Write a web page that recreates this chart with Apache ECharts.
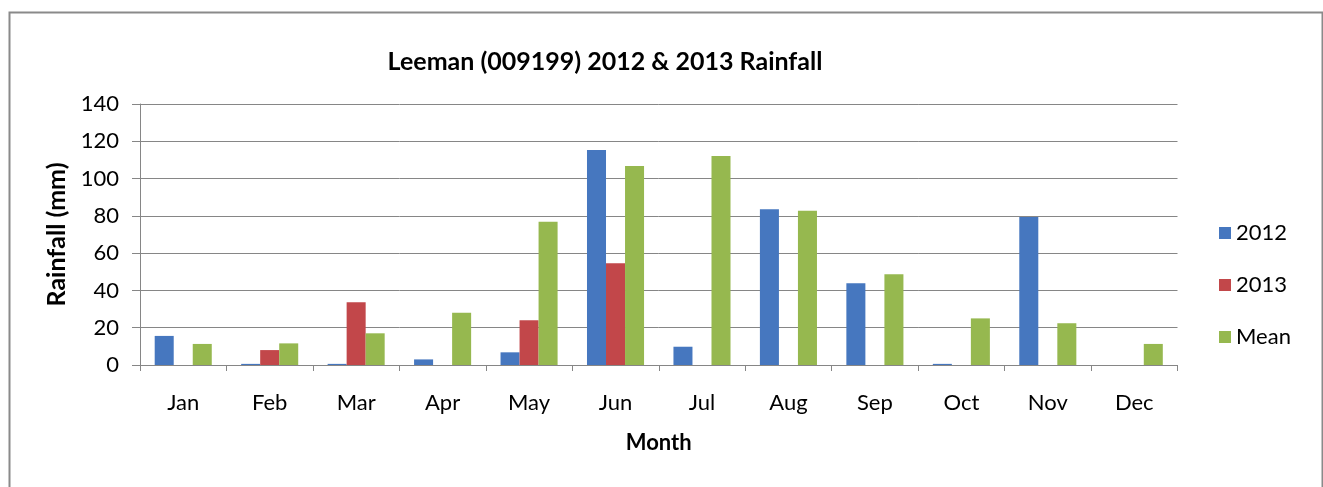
<!DOCTYPE html>
<html>
<head>
<meta charset="utf-8">
<title>Leeman (009199) 2012 &amp; 2013 Rainfall</title>
<script src="https://cdn.jsdelivr.net/npm/echarts@6/dist/echarts.min.js"></script>
<style>
  html, body { margin: 0; padding: 0; background: #ffffff; }
  #chart { width: 1323px; height: 487px; }
</style>
</head>
<body>
<div id="chart"></div>
<script>
// Monthly rainfall at Leeman (station 009199), in mm
const months = ['Jan', 'Feb', 'Mar', 'Apr', 'May', 'Jun', 'Jul', 'Aug', 'Sep', 'Oct', 'Nov', 'Dec'];
const rain2012 = [15.6, 0.6, 0.6, 3.0, 6.8, 115.3, 9.8, 83.5, 43.8, 0.6, 79.4, 0];
const rain2013 = [0, 8.0, 33.6, 0, 24.0, 54.6, null, null, null, null, null, null];
const rainMean = [11.3, 11.6, 17.0, 28.0, 76.9, 106.8, 112.1, 82.8, 48.7, 25.0, 22.4, 11.3];
const yTicks = [0, 20, 40, 60, 80, 100, 120, 140];

const FONT = 'Lato, "Open Sans", "DejaVu Sans", sans-serif';
const AXIS_GREY = '#868686';

const chart = echarts.init(document.getElementById('chart'), null, { renderer: 'canvas' });

function barSeries(name, data, color) {
  return {
    name: name,
    type: 'bar',
    data: data,
    barGap: '0%',
    barCategoryGap: '34%',
    itemStyle: { color: color },
    emphasis: { disabled: true }
  };
}

chart.setOption({
  animation: false,
  backgroundColor: '#ffffff',
  textStyle: { fontFamily: FONT, color: '#000000' },
  graphic: [{
    type: 'rect',
    left: 7, top: 10,
    shape: { width: 1313, height: 500 },
    style: { fill: 'none', stroke: '#8a8a8a', lineWidth: 2 },
    silent: true
  }],
  title: {
    text: 'Leeman (009199) 2012 & 2013 Rainfall',
    left: 600, top: 44,
    textAlign: 'center',
    textStyle: { fontFamily: FONT, fontSize: 25, fontWeight: 'bold', color: '#000000' }
  },
  legend: {
    orient: 'vertical',
    left: 1214, top: 217,
    itemWidth: 12, itemHeight: 12,
    itemGap: 30,
    icon: 'rect',
    textStyle: { fontFamily: FONT, fontSize: 22, color: '#000000' },
    data: ['2012', '2013', 'Mean']
  },
  grid: { left: 140, right: 145.5, top: 104, bottom: 122, containLabel: false },
  xAxis: {
    type: 'category',
    data: months,
    name: 'Month',
    nameLocation: 'middle',
    nameGap: 67,
    nameTextStyle: { fontFamily: FONT, fontSize: 22, fontWeight: 'bold', color: '#000000' },
    axisLine: { lineStyle: { color: AXIS_GREY, width: 1 } },
    axisTick: { show: true, length: 6, lineStyle: { color: AXIS_GREY } },
    axisLabel: { fontFamily: FONT, fontSize: 22, color: '#000000', margin: 27 }
  },
  yAxis: {
    type: 'value',
    min: yTicks[0],
    max: yTicks[yTicks.length - 1],
    interval: yTicks[1] - yTicks[0],
    name: 'Rainfall (mm)',
    nameLocation: 'middle',
    nameRotate: 90,
    nameGap: 71,
    nameTextStyle: { fontFamily: FONT, fontSize: 25, fontWeight: 'bold', color: '#000000' },
    axisLine: { show: true, lineStyle: { color: AXIS_GREY, width: 1 } },
    axisTick: { show: true, length: 8, lineStyle: { color: AXIS_GREY } },
    axisLabel: { fontFamily: FONT, fontSize: 22, color: '#000000', margin: 21 },
    splitLine: { show: true, lineStyle: { color: AXIS_GREY, width: 1 } }
  },
  series: [
    barSeries('2012', rain2012, '#4677bf'),
    barSeries('2013', rain2013, '#c2474a'),
    barSeries('Mean', rainMean, '#96b84f')
  ]
});
</script>
</body>
</html>
